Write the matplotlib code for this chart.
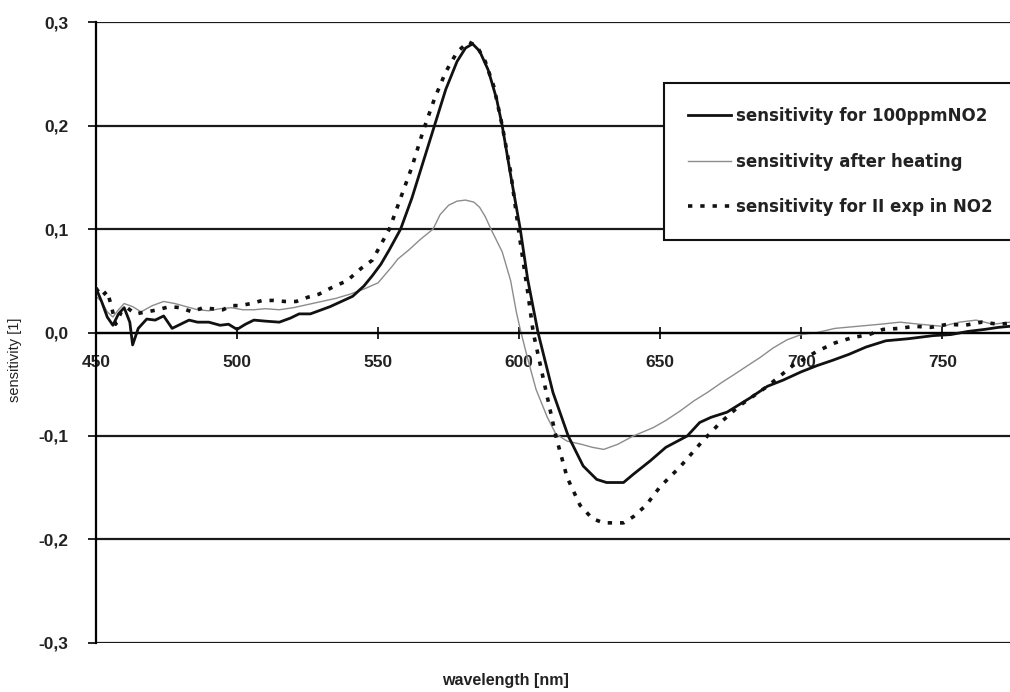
import matplotlib.pyplot as plt
from matplotlib.ticker import FuncFormatter

# sensitivity for 100ppm NO2 (solid)
wl_100 = [450, 452, 454, 456, 458, 460, 462, 463, 465, 468, 471, 474, 477, 480, 483, 486, 490,
          494, 497, 500, 503, 506, 510, 515, 519, 522, 526, 530, 533, 537, 541, 545, 548, 551,
          554, 558, 562, 566, 570, 574, 578, 581, 583.5, 586, 589, 592, 594, 597, 600.4, 603,
          606.7, 612, 617.4, 622.7, 627.5, 631, 637, 640.5, 646.5, 652, 659.6, 664, 668, 673.7,
          682, 688, 693.6, 700, 705.6, 711, 717, 723, 730, 738, 746.8, 753, 759, 765, 770, 774]
s_100 = [0.043, 0.03, 0.015, 0.007, 0.018, 0.024, 0.01, -0.012, 0.004, 0.013, 0.012, 0.016, 0.004,
         0.008, 0.012, 0.01, 0.01, 0.007, 0.008, 0.003, 0.008, 0.012, 0.011, 0.01, 0.014, 0.018,
         0.018, 0.022, 0.025, 0.03, 0.035, 0.045, 0.055, 0.066, 0.08, 0.1, 0.13, 0.165, 0.2,
         0.235, 0.262, 0.275, 0.279, 0.272, 0.254, 0.226, 0.2, 0.152, 0.1, 0.052, 0.0, -0.058,
         -0.1, -0.129, -0.142, -0.145, -0.145, -0.137, -0.124, -0.111, -0.1, -0.087, -0.082,
         -0.077, -0.063, -0.052, -0.046, -0.038, -0.032, -0.027, -0.021, -0.014, -0.008, -0.006,
         -0.003, -0.002, 0.001, 0.003, 0.005, 0.006]

# sensitivity after heating (thin grey)
wl_heat = [450, 452, 454, 456, 458, 460, 463, 466, 470, 474, 478, 482, 486, 490, 494, 498, 502,
           506, 510, 515, 520, 525, 530, 535, 540, 545, 550, 555, 557, 561, 565, 569.5, 572, 575,
           578, 581, 584, 586, 588, 590, 594, 597, 599, 600.4, 603, 606, 610, 613, 617, 622, 626,
           630, 635, 640.5, 647.5, 652, 657, 662, 666.7, 672, 676, 681, 685.5, 690, 695, 700,
           705.6, 712, 720, 728, 735, 742, 750, 756, 762, 768, 774]
s_heat = [0.035, 0.03, 0.02, 0.015, 0.022, 0.028, 0.025, 0.02, 0.026, 0.03, 0.028, 0.025, 0.022,
          0.021, 0.023, 0.024, 0.022, 0.022, 0.023, 0.022, 0.024, 0.027, 0.03, 0.033, 0.037, 0.042,
          0.048, 0.064, 0.071, 0.08, 0.09, 0.1, 0.114, 0.123, 0.127, 0.128, 0.126, 0.121, 0.112,
          0.1, 0.078, 0.05, 0.02, 0.003, -0.025, -0.055, -0.082, -0.098, -0.105, -0.108, -0.111,
          -0.113, -0.108, -0.1, -0.092, -0.085, -0.076, -0.066, -0.058, -0.048, -0.041, -0.032,
          -0.024, -0.015, -0.007, -0.002, 0.0, 0.004, 0.006, 0.008, 0.01, 0.008, 0.006, 0.01,
          0.012, 0.008, 0.01]

# sensitivity for II exp in NO2 (dotted)
wl_ii = [450, 452, 454, 455.5, 457, 459, 461, 464, 468, 472, 476, 480, 484, 488, 491, 495, 498,
         501, 505, 509, 513, 517, 521, 525, 529, 534, 539, 544, 548, 551, 554, 558, 562, 566, 570,
         574, 578, 582, 585, 588, 591, 594, 597, 600, 603, 605, 609, 613, 617, 621.6, 626, 630,
         637, 640.5, 645, 650, 657, 665, 671, 678, 688, 697, 705.7, 712, 718, 724, 729, 735, 740,
         746, 752, 758, 764, 770, 774]
s_ii = [0.043, 0.035, 0.04, 0.025, 0.008, 0.02, 0.024, 0.018, 0.02, 0.022, 0.025, 0.024, 0.02,
        0.024, 0.023, 0.022, 0.026, 0.026, 0.028, 0.031, 0.031, 0.03, 0.03, 0.034, 0.037, 0.044,
        0.05, 0.062, 0.07, 0.085, 0.1, 0.13, 0.16, 0.195, 0.226, 0.252, 0.271, 0.281, 0.277,
        0.262, 0.238, 0.2, 0.155, 0.095, 0.04, 0.0, -0.05, -0.1, -0.14, -0.167, -0.18, -0.184,
        -0.184, -0.178, -0.167, -0.149, -0.13, -0.105, -0.088, -0.071, -0.052, -0.032, -0.018,
        -0.01, -0.005, -0.002, 0.003, 0.004, 0.006, 0.005, 0.008, 0.007, 0.01, 0.008, 0.009]

x_ticks = [450, 500, 550, 600, 650, 700, 750]
y_ticks = [-0.3, -0.2, -0.1, 0.0, 0.1, 0.2, 0.3]

plt.rcParams['font.family'] = ['Liberation Sans', 'DejaVu Sans']

fig = plt.figure(figsize=(10.1, 6.92), dpi=100)
ax = fig.add_axes([0.095, 0.071, 0.905, 0.897])

for y in y_ticks:
    ax.axhline(y, color='#1a1a1a', lw=1.6, zorder=1)

ax.plot(wl_100, s_100, color='#111111', lw=2.0, label='sensitivity for 100ppmNO2', zorder=3)
ax.plot(wl_heat, s_heat, color='#8c8c8c', lw=1.0, label='sensitivity after heating', zorder=2)
ax.plot(wl_ii, s_ii, color='#111111', lw=2.6, linestyle=(0, (1.2, 2.2)),
        label='sensitivity for II exp in NO2', zorder=3)

ax.set_xlim(450, 774)
ax.set_ylim(-0.3, 0.3)

ax.spines['right'].set_visible(False)
ax.spines['top'].set_visible(False)
ax.spines['bottom'].set_position(('data', 0))
ax.spines['bottom'].set_linewidth(1.6)
ax.spines['left'].set_linewidth(1.6)

ax.set_xticks(x_ticks)
ax.set_yticks(y_ticks)
ax.yaxis.set_major_formatter(FuncFormatter(lambda v, p: ('%.1f' % v).replace('.', ',').replace('-0,0', '0,0')))
ax.tick_params(axis='x', direction='inout', length=8, width=1.2, pad=12, labelsize=12.5)
ax.tick_params(axis='y', direction='out', length=6, width=1.2, pad=14, labelsize=12.5)
for t in ax.get_xticklabels() + ax.get_yticklabels():
    t.set_fontweight('bold')
    t.set_color('#222222')

fig.text(0.5, 0.017, 'wavelength [nm]', ha='center', va='center', fontsize=11.5,
         fontweight='bold', color='#222222')
fig.text(0.015, 0.48, 'sensitivity [1]', ha='center', va='center', rotation=90,
         fontsize=10.5, color='#222222')

leg = ax.legend(loc='upper left', bbox_to_anchor=(0.657, 0.880), bbox_transform=fig.transFigure,
                prop={'family': 'DejaVu Sans', 'size': 12, 'weight': 'bold'},
                frameon=True, fancybox=False, framealpha=1.0, labelspacing=1.65,
                handlelength=2.6, handletextpad=0.3, borderpad=1.45, borderaxespad=0)
leg.get_frame().set_edgecolor('#111111')
leg.get_frame().set_linewidth(1.5)
leg.set_zorder(5)
for t in leg.get_texts():
    t.set_color('#222222')

fig.savefig('out.png', dpi=100)
